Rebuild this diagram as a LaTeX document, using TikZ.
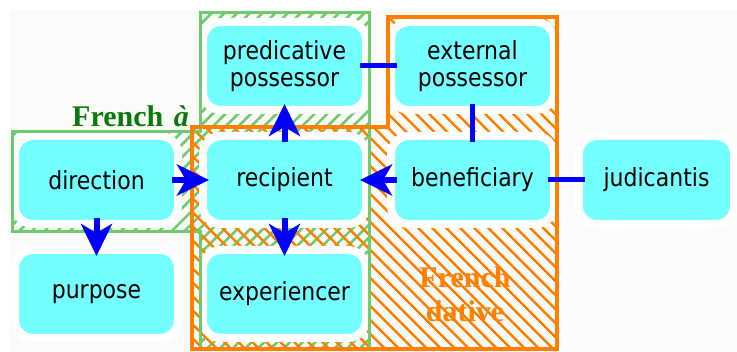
\documentclass[tikz,border=0pt]{standalone}
\usepackage{fontspec}
\setmainfont{Liberation Serif}
\newfontfamily\rolefont[FakeStretch=0.88]{DejaVu Sans}
\usepackage{tikz}
\usetikzlibrary{arrows.meta,positioning,patterns.meta}
\definecolor{roleCyan}{HTML}{73FFFF}
\definecolor{roleBlue}{HTML}{0000FF}
\definecolor{aGreen}{HTML}{6CCB6C}
\definecolor{aText}{HTML}{0A7A0A}
\definecolor{datOrange}{HTML}{FF8000}
\definecolor{paper}{HTML}{FCFBF9}
\tikzset{
  map/role/.style={fill=roleCyan, draw=white, line width=8pt, rounded corners=18pt,
    minimum width=163pt, minimum height=88pt, inner sep=0pt, align=center,
    font=\rolefont\fontsize{25}{27}\selectfont},
  map/arr/.style={draw=roleBlue, line width=6pt, -{Stealth[length=32pt,width=31pt,inset=9pt]},
    shorten <=-10pt, shorten >=-10pt},
  map/link/.style={draw=roleBlue, line width=5pt, shorten <=-10pt, shorten >=-10pt},
  map/ahatch/.style={pattern={Lines[angle=45,distance=9pt,line width=2.6pt]}, pattern color=aGreen},
  map/dathatch/.style={pattern={Lines[angle=-45,distance=10.5pt,line width=2.6pt]}, pattern color=datOrange},
  map/label/.style={font=\bfseries\fontsize{30}{34}\selectfont, align=center, inner sep=0pt}
}

\begin{document}
\begin{tikzpicture}[x=1pt, y=-1pt, node distance=18pt and 17pt]
\useasboundingbox (0,0) rectangle (737,352);
\fill[paper] (10,10) rectangle (737,352);
\path[map/ahatch] (12,132) -- (200,132) -- (200,13) -- (369,13) -- (369,349) -- (200,349) -- (200,232) -- (12,232) -- cycle;
\path[map/dathatch] (192,127) -- (388,127) -- (388,17) -- (557,17) -- (557,349) -- (192,349) -- cycle;
\node[map/label, text=aText, anchor=base east] (alabel) at (189,127) {French\hspace{0.35em}\textit{à}};
\node[map/label, text=datOrange] (datlabel) at (465,294) {French\\dative};

\node[map/role] (recipient) at (284.5,180) {recipient};
\node[map/role, left=of recipient] (direction) {direction};
\node[map/role, right=of recipient] (beneficiary) {beneficiary};
\node[map/role, right=of beneficiary, minimum width=155pt] (judicantis) {judicantis};
\node[map/role, above=of recipient] (predposs) {predicative\\possessor};
\node[map/role, above=of beneficiary] (extposs) {external\\possessor};
\node[map/role, below=of recipient] (experiencer) {experiencer};
\node[map/role, below=of direction] (purpose) {purpose};

\draw[aGreen, line width=3pt] (12,132) -- (200,132) -- (200,13) -- (369,13) -- (369,349) -- (200,349) -- (200,232) -- (12,232) -- cycle;
\draw[datOrange, line width=4pt] (192,127) -- (388,127) -- (388,17) -- (557,17) -- (557,349) -- (192,349) -- cycle;

\draw[map/arr] (direction) -- (recipient);
\draw[map/arr] (direction) -- (purpose);
\draw[map/arr] (recipient) -- (predposs);
\draw[map/arr] (recipient) -- (experiencer);
\draw[map/arr] (beneficiary) -- (recipient);
\draw[map/link] (predposs) -- (extposs);
\draw[map/link] (extposs) -- (beneficiary);
\draw[map/link] (beneficiary) -- (judicantis);
\end{tikzpicture}
\end{document}
